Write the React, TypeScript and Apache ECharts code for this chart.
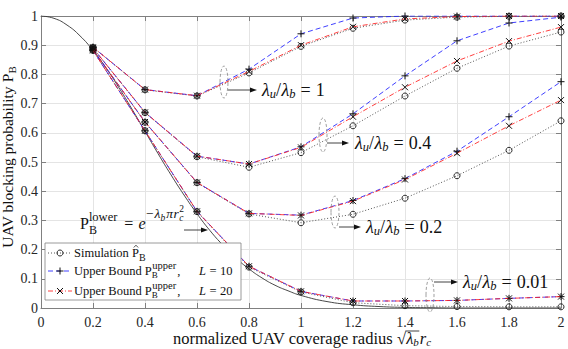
import React, { useEffect, useRef } from "react";
import * as echarts from "echarts";

const FF = "Liberation Serif";

// x positions of the markers (normalized coverage radius)
const xs = [0.2, 0.4, 0.6, 0.8, 1.0, 1.2, 1.4, 1.6, 1.8, 2.0];

// lambda_u / lambda_b = 1
const sim1 = [0.893, 0.747, 0.726, 0.805, 0.896, 0.958, 0.986, 0.996, 0.999, 1.0];
const up10_1 = [0.893, 0.748, 0.727, 0.818, 0.939, 0.993, 1.0, 1.0, 1.0, 1.0];
const up20_1 = [0.893, 0.748, 0.727, 0.81, 0.9, 0.963, 0.99, 0.998, 1.0, 1.0];
// lambda_u / lambda_b = 0.4
const sim04 = [0.89, 0.669, 0.518, 0.482, 0.532, 0.624, 0.726, 0.821, 0.897, 0.945];
const up10_04 = [0.89, 0.67, 0.52, 0.493, 0.552, 0.665, 0.795, 0.915, 0.976, 0.996];
const up20_04 = [0.89, 0.67, 0.52, 0.493, 0.55, 0.655, 0.756, 0.846, 0.914, 0.962];
// lambda_u / lambda_b = 0.2
const sim02 = [0.885, 0.636, 0.429, 0.322, 0.292, 0.321, 0.376, 0.453, 0.54, 0.641];
const up10_02 = [0.885, 0.637, 0.43, 0.324, 0.318, 0.368, 0.443, 0.537, 0.655, 0.775];
const up20_02 = [0.885, 0.637, 0.43, 0.324, 0.317, 0.366, 0.44, 0.53, 0.624, 0.712];
// lambda_u / lambda_b = 0.01
const sim001 = [0.882, 0.607, 0.33, 0.14, 0.055, 0.018, 0.008, 0.005, 0.004, 0.004];
const up10_001 = [0.882, 0.607, 0.331, 0.143, 0.057, 0.024, 0.024, 0.026, 0.033, 0.039];
const up20_001 = [0.882, 0.607, 0.331, 0.143, 0.057, 0.024, 0.024, 0.026, 0.033, 0.039];

// lower bound curve P_B^lower (black solid)
const lbX = [0, 0.05, 0.1, 0.15, 0.2, 0.25, 0.3, 0.35, 0.4, 0.45, 0.5, 0.55, 0.6, 0.65, 0.7, 0.75, 0.8, 0.85, 0.9, 0.95, 1.0, 1.1, 1.2, 1.3, 1.4, 1.5, 1.6, 1.8, 2.0];
const lbY = [1, 0.992, 0.969, 0.932, 0.882, 0.822, 0.754, 0.681, 0.605, 0.529, 0.456, 0.387, 0.323, 0.265, 0.215, 0.171, 0.134, 0.103, 0.078, 0.059, 0.043, 0.022, 0.011, 0.005, 0.002, 0.001, 0, 0, 0];

const ratioLabels = ["1", "0.4", "0.2", "0.01"];
const legendL = ["10", "20"];

const PLUS = "path://M0,5L10,5M5,0L5,10";
const CROSS = "path://M0,0L10,10M10,0L0,10";
const BLUE = "#1f1fff";
const RED = "#ff1f1f";
const GRAY = "#555555";

let ctx: CanvasRenderingContext2D | null = null;
function fontStr(size: number, it?: boolean) {
  return `${it ? "italic " : ""}${size}px ${FF}`;
}
function tw(t: string, size: number, it?: boolean) {
  if (!ctx) ctx = document.createElement("canvas").getContext("2d");
  ctx!.font = fontStr(size, it);
  return ctx!.measureText(t).width;
}

type Part = { t: string; s?: number; it?: boolean; dy?: number; stack?: boolean; gap?: number; dx?: number };

function layout(parts: Part[], base: number) {
  let cx = 0;
  let pend = 0;
  const items: { x: number; w: number; p: Part; s: number }[] = [];
  for (const p of parts) {
    const s = p.s ?? base;
    const w = tw(p.t, s, p.it);
    const x0 = cx + (p.dx ?? 0);
    items.push({ x: x0, w, p, s });
    if (p.stack) pend = Math.max(pend, w);
    else {
      cx = x0 + Math.max(pend, w) + (p.gap ?? 0);
      pend = 0;
    }
  }
  return { items, width: cx };
}
function textEl(t: string, s: number, it: boolean | undefined, x: number, y: number, rotation = 0, fill = "#111") {
  return {
    type: "text",
    x,
    y,
    rotation,
    silent: true,
    z: 100,
    style: {
      text: t,
      fontSize: s,
      fontFamily: FF,
      fontStyle: it ? "italic" : "normal",
      fill,
      textAlign: "left",
      textVerticalAlign: "middle",
      align: "left",
      verticalAlign: "middle",
    },
  };
}
function mathText(parts: Part[], base: number, ox: number, oy: number) {
  const { items, width } = layout(parts, base);
  const els = items.map(({ x, p, s }) => textEl(p.t, s, p.it, ox + x, oy + (p.dy ?? 0)));
  return { width, items, els };
}
// vertical text reading bottom-to-top, starting at (ox, oyBottom)
function mathTextUp(parts: Part[], base: number, ox: number, oyBottom: number) {
  const { items, width } = layout(parts, base);
  const els = items.map(({ x, p, s }) => textEl(p.t, s, p.it, ox + (p.dy ?? 0), oyBottom - x, Math.PI / 2));
  return { width, items, els };
}

function arrow(x1: number, y: number, x2: number) {
  return [
    { type: "line", z: 100, silent: true, shape: { x1, y1: y, x2: x2 - 5, y2: y }, style: { stroke: "#111", lineWidth: 0.8 } },
    { type: "polygon", z: 100, silent: true, shape: { points: [[x2, y], [x2 - 7, y - 2.6], [x2 - 7, y + 2.6]] }, style: { fill: "#111" } },
  ];
}
function ellipse(cx: number, cy: number, ry: number) {
  return { type: "ellipse", z: 100, silent: true, shape: { cx, cy, rx: 4, ry }, style: { fill: "none", stroke: "#888", lineWidth: 0.8, lineDash: [3, 2] } };
}
function ratioText(v: string, x: number, y: number) {
  return mathText(
    [
      { t: "λ", it: true },
      { t: "u", it: true, s: 12.5, dy: 4 },
      { t: "/", gap: 0.5 },
      { t: "λ", it: true },
      { t: "b", it: true, s: 12.5, dy: 4, gap: 5 },
      { t: "=", gap: 5 },
      { t: v },
    ],
    18,
    x,
    y
  ).els;
}

function mk(vals: number[]) {
  return xs.map((x, i) => [x, vals[i]]);
}
function simSeries(name: string, vals: number[]) {
  return {
    type: "line", name, data: mk(vals), symbol: "circle", symbolSize: 6, z: 3, silent: true,
    lineStyle: { color: GRAY, width: 1, type: [1, 2] },
    itemStyle: { color: "rgba(0,0,0,0)", borderColor: "#111", borderWidth: 0.9 },
  };
}
function up10Series(name: string, vals: number[]) {
  return {
    type: "line", name, data: mk(vals), symbol: PLUS, symbolSize: 7, z: 4, silent: true,
    lineStyle: { color: BLUE, width: 1, type: [5, 3], opacity: 0.85 },
    itemStyle: { color: "rgba(0,0,0,0)", borderColor: "#111", borderWidth: 1 },
  };
}
function up20Series(name: string, vals: number[]) {
  return {
    type: "line", name, data: mk(vals), symbol: CROSS, symbolSize: 6, z: 5, silent: true,
    lineStyle: { color: RED, width: 1, type: [5, 2, 1, 2], opacity: 0.85 },
    itemStyle: { color: "rgba(0,0,0,0)", borderColor: "#111", borderWidth: 1 },
  };
}

function buildOption() {
  const fmt = (v: number) => String(Math.round(v * 10) / 10);
  const axisLine = { show: true, onZero: false, lineStyle: { color: "#808080", width: 1 } };
  const axisTick = { show: true, inside: true, length: 5, lineStyle: { color: "#808080" } };
  const split = { show: true, lineStyle: { color: "#e4e4e4", width: 1 } };

  const g: any[] = [];
  // annotations
  g.push(ellipse(224, 82, 16), ...arrow(228, 90, 257), ...ratioText(ratioLabels[0], 262, 90));
  g.push(ellipse(323, 135, 17), ...arrow(327, 143, 349), ...ratioText(ratioLabels[1], 355, 143));
  g.push(ellipse(335, 212, 16), ...arrow(339, 227, 361), ...ratioText(ratioLabels[2], 366, 227));
  g.push(ellipse(430, 295, 17), ...arrow(434, 282, 458), ...ratioText(ratioLabels[3], 463, 282));

  // lower bound label
  g.push(
    ...mathText(
      [
        { t: "P" },
        { t: "lower", s: 12.5, dy: -6.5, stack: true },
        { t: "B", s: 12, dy: 6.5, gap: 7 },
        { t: "=", gap: 5 },
        { t: "e", it: true, gap: 0.5 },
        { t: "−", s: 13.5, dy: -9.5, gap: 1 },
        { t: "λ", it: true, s: 13.5, dy: -9.5 },
        { t: "b", it: true, s: 9.5, dy: -5.5, gap: 1 },
        { t: "π", it: true, s: 13.5, dy: -9.5, gap: 0.5 },
        { t: "r", it: true, s: 13.5, dy: -9.5, gap: 0.5 },
        { t: "2", s: 9.5, dy: -14, stack: true },
        { t: "c", it: true, s: 9.5, dy: -5.5 },
      ],
      16,
      80,
      223
    ).els,
    ...arrow(184, 230, 208)
  );

  // legend
  g.push({ type: "rect", z: 99, silent: true, shape: { x: 45, y: 243, width: 196, height: 57 }, style: { fill: "#fff", stroke: "#808080", lineWidth: 0.8 } });
  const rows = [253, 271, 291];
  g.push({ type: "line", z: 100, silent: true, shape: { x1: 48, y1: rows[0], x2: 72, y2: rows[0] }, style: { stroke: GRAY, lineWidth: 1, lineDash: [1, 2] } });
  g.push({ type: "circle", z: 101, silent: true, shape: { cx: 60, cy: rows[0], r: 3 }, style: { fill: "none", stroke: "#111", lineWidth: 0.9 } });
  g.push({ type: "line", z: 100, silent: true, shape: { x1: 48, y1: rows[1], x2: 72, y2: rows[1] }, style: { stroke: BLUE, lineWidth: 1, lineDash: [5, 3], opacity: 0.85 } });
  g.push({ type: "line", z: 101, silent: true, shape: { x1: 56.5, y1: rows[1], x2: 63.5, y2: rows[1] }, style: { stroke: "#111", lineWidth: 1 } });
  g.push({ type: "line", z: 101, silent: true, shape: { x1: 60, y1: rows[1] - 3.5, x2: 60, y2: rows[1] + 3.5 }, style: { stroke: "#111", lineWidth: 1 } });
  g.push({ type: "line", z: 100, silent: true, shape: { x1: 48, y1: rows[2], x2: 72, y2: rows[2] }, style: { stroke: RED, lineWidth: 1, lineDash: [5, 2, 1, 2], opacity: 0.85 } });
  g.push({ type: "line", z: 101, silent: true, shape: { x1: 57, y1: rows[2] - 3, x2: 63, y2: rows[2] + 3 }, style: { stroke: "#111", lineWidth: 1 } });
  g.push({ type: "line", z: 101, silent: true, shape: { x1: 63, y1: rows[2] - 3, x2: 57, y2: rows[2] + 3 }, style: { stroke: "#111", lineWidth: 1 } });
  const r1 = mathText([{ t: "Simulation " }, { t: "P" }, { t: "B", s: 10, dy: 4 }], 12.5, 74, rows[0]);
  g.push(...r1.els);
  const pI = r1.items[1];
  const hx = 74 + pI.x + pI.w / 2 + 0.5;
  g.push({ type: "polyline", z: 100, silent: true, shape: { points: [[hx - 2.2, rows[0] - 5.5], [hx, rows[0] - 7.8], [hx + 2.2, rows[0] - 5.5]] }, style: { stroke: "#111", lineWidth: 0.7, fill: "none" } });
  legendL.forEach((L, i) => {
    const y = rows[i + 1];
    g.push(
      ...mathText(
        [
          { t: "Upper Bound " },
          { t: "P" },
          { t: "upper", s: 10.5, dy: -5.5, stack: true, dx: 0.5 },
          { t: "B", s: 9, dy: 4.3, gap: 1.5 },
          { t: "," },
        ],
        12.5, 74, y
      ).els
    );
    g.push(...mathText([{ t: "L", it: true, gap: 3.5 }, { t: "=", gap: 3.5 }, { t: L }], 12.5, 199, y).els);
  });

  // x-axis title
  const xParts: Part[] = [
    { t: "normalized UAV coverage radius " },
    { t: "√" },
    { t: "λ", it: true },
    { t: "b", it: true, s: 11, dy: 4, gap: 1 },
    { t: "r", it: true },
    { t: "c", it: true, s: 11, dy: 4 },
  ];
  const xt = layout(xParts, 16.5);
  const xOff = 302 - xt.width / 2;
  const xtEls = mathText(xParts, 16.5, xOff, 338);
  g.push(...xtEls.els);
  const sq = xtEls.items[1];
  const bItem = xtEls.items[3];
  g.push({ type: "line", z: 100, silent: true, shape: { x1: xOff + sq.x + sq.w - 0.8, y1: 331, x2: xOff + bItem.x + bItem.w + 0.5, y2: 331 }, style: { stroke: "#111", lineWidth: 0.8 } });

  // y-axis title (rotated, reading upward)
  const ytParts: Part[] = [{ t: "UAV blocking probability " }, { t: "P" }, { t: "B", s: 11, dy: 5 }];
  const yt = layout(ytParts, 15.5);
  g.push(...mathTextUp(ytParts, 15.5, 7, 157 + yt.width / 2).els);

  return {
    animation: false,
    backgroundColor: "#fff",
    grid: { left: 41, right: 7, top: 16, bottom: 41, containLabel: false },
    xAxis: [
      {
        type: "value", min: 0, max: 2, interval: 0.2, position: "bottom",
        axisLine, axisTick, splitLine: split,
        axisLabel: { color: "#262626", fontSize: 14, lineHeight: 14, fontFamily: FF, margin: 7, formatter: fmt },
      },
      {
        type: "value", min: 0, max: 2, interval: 0.2, position: "top",
        axisLine, axisTick, splitLine: { show: false }, axisLabel: { show: false },
      },
    ],
    yAxis: [
      {
        type: "value", min: 0, max: 1, interval: 0.1, position: "left",
        axisLine, axisTick, splitLine: split,
        axisLabel: { color: "#262626", fontSize: 14, fontFamily: FF, margin: 3, formatter: fmt },
      },
      {
        type: "value", min: 0, max: 1, interval: 0.1, position: "right",
        axisLine, axisTick, splitLine: { show: false }, axisLabel: { show: false },
      },
    ],
    series: [
      {
        type: "line", name: "lower", data: lbX.map((x, i) => [x, lbY[i]]), symbol: "none", smooth: true, z: 2, silent: true,
        lineStyle: { color: "#333", width: 0.9 },
      },
      simSeries("sim1", sim1), up10Series("up10_1", up10_1), up20Series("up20_1", up20_1),
      simSeries("sim04", sim04), up10Series("up10_04", up10_04), up20Series("up20_04", up20_04),
      simSeries("sim02", sim02), up10Series("up10_02", up10_02), up20Series("up20_02", up20_02),
      simSeries("sim001", sim001), up10Series("up10_001", up10_001), up20Series("up20_001", up20_001),
    ],
    graphic: { elements: g },
  };
}

export default function App() {
  const ref = useRef<HTMLDivElement>(null);
  useEffect(() => {
    document.body.style.margin = "0";
    const chart = echarts.init(ref.current!, null, { renderer: "svg" });
    chart.setOption(buildOption() as any);
    return () => chart.dispose();
  }, []);
  return <div ref={ref} style={{ width: 568, height: 349 }} />;
}
